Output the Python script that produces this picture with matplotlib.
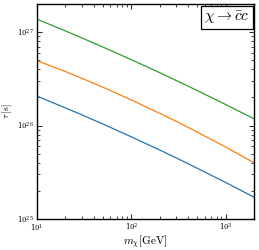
import matplotlib
matplotlib.use("Agg")
import matplotlib.pyplot as plt
import numpy as np

plt.rcParams['mathtext.fontset'] = 'cm'
plt.rcParams['font.family'] = 'DejaVu Serif'

mass = [10, 20, 30, 50, 100, 200, 300, 500, 1000, 2000]
tau_blue = [2.065e26, 1.545e26, 1.300e26, 1.038e26, 7.57e25, 5.47e25, 4.50e25, 3.49e25, 2.46e25, 1.71e25]
tau_orange = [4.95e26, 3.78e26, 3.20e26, 2.57e26, 1.88e26, 1.35e26, 1.107e26, 8.51e25, 5.89e25, 4.00e25]
tau_green = [1.374e27, 1.030e27, 8.65e26, 6.92e26, 5.07e26, 3.68e26, 3.03e26, 2.37e26, 1.68e26, 1.18e26]

fig = plt.figure(figsize=(2.59, 2.50), dpi=100)
ax = fig.add_axes([0.143, 0.124, 0.838, 0.860])
lw = 0.9
ax.plot(mass, tau_blue, color='#1f77b4', lw=lw)
ax.plot(mass, tau_orange, color='#ff7f0e', lw=lw)
ax.plot(mass, tau_green, color='#2ca02c', lw=lw)
ax.set_xscale('log')
ax.set_yscale('log')
ax.set_xlim(10, 2000)
ax.set_ylim(1e25, 2e27)
ax.set_xlabel(r'$m_\chi[\mathrm{GeV}]$', fontsize=8, labelpad=0)
ax.set_ylabel(r'$\tau\,[\mathrm{s}]$', fontsize=7)
ax.yaxis.set_label_coords(-0.105, 0.5)
ax.tick_params(which='both', direction='in', top=True, right=True, labelsize=5, pad=2)
ax.tick_params(which='major', length=3.5, width=0.6)
ax.tick_params(which='minor', length=2, width=0.5)
for s in ax.spines.values():
    s.set_linewidth(1.0)
ax.text(0.98, 0.975, r'$\chi\to\bar{c}c$', transform=ax.transAxes, ha='right', va='top',
        fontsize=11, bbox=dict(boxstyle='square,pad=0.2', fc='white', ec='black', lw=0.9))
fig.savefig('out.png', dpi=100)
